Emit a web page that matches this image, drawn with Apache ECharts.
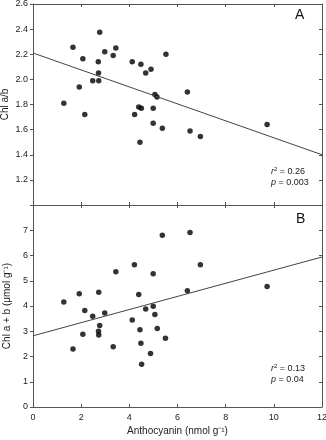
<!DOCTYPE html>
<html>
<head>
<meta charset="utf-8">
<script src="https://cdn.jsdelivr.net/npm/echarts@6/dist/echarts.min.js"></script>
<style>
  html, body { margin: 0; background: #fff; }
  #chart { width: 326px; height: 440px; }
</style>
</head>
<body>
<div id="chart"></div>
<script>
// panel A: chlorophyll a/b vs anthocyanin
const anthoA = [1.28, 1.66, 2.07, 1.92, 2.15, 2.48, 2.73, 2.72, 2.71, 2.77, 2.98, 3.33, 3.44, 4.12, 4.48, 4.90,
  4.68, 5.52, 5.06, 5.15, 4.39, 4.50, 4.99, 4.22, 4.99, 5.37, 4.44, 6.41, 6.52, 6.95, 9.72];
const ratioA = [1.81, 2.255, 2.165, 1.94, 1.72, 1.99, 1.99, 2.05, 2.14, 2.375, 2.22, 2.19, 2.25, 2.14, 2.12, 2.08,
  2.05, 2.20, 1.88, 1.86, 1.78, 1.77, 1.77, 1.72, 1.65, 1.61, 1.50, 1.90, 1.59, 1.545, 1.64];
const fitA = [[0, 2.21], [12, 1.40]];

// panel B: chlorophyll a+b vs anthocyanin
const anthoB = [1.28, 1.66, 1.92, 2.07, 2.15, 2.48, 2.73, 2.77, 2.72, 2.73, 2.98, 3.33, 3.44, 4.21, 4.12, 4.39,
  4.44, 4.48, 4.51, 4.68, 4.88, 4.99, 4.99, 5.06, 5.16, 5.37, 5.50, 6.41, 6.52, 6.95, 9.72];
const totalB = [4.16, 2.30, 4.49, 2.88, 3.82, 3.59, 4.54, 3.23, 3.00, 2.85, 3.72, 2.39, 5.36, 5.63, 3.45, 4.46,
  3.06, 2.52, 1.69, 3.88, 2.12, 5.28, 3.99, 3.66, 3.11, 6.80, 2.72, 4.60, 6.91, 5.63, 4.77];
const fitB = [[0, 2.82], [12, 5.94]];

const xMin = 0, xMax = 12, xStep = 2;
const yAMin = 1.0, yAMax = 2.6, yAStep = 0.2;
const yBMin = 0, yBMax = 8, yBStep = 1;

const font = '"Liberation Sans", Arial, sans-serif';
const frame = '#555';
const pts = (xs, ys) => xs.map((x, i) => [x, ys[i]]);

function xAx(grid, pos, labels, name) {
  return {
    type: 'value', gridIndex: grid, position: pos,
    min: xMin, max: xMax, interval: xStep,
    name: name || '', nameLocation: 'middle', nameGap: 19,
    nameTextStyle: {fontFamily: font, fontSize: 10, color: '#222'},
    axisLine: {show: true, onZero: false, lineStyle: {color: frame, width: 1}},
    axisTick: {show: true, inside: true, length: 3, lineStyle: {color: frame}},
    axisLabel: {show: labels, fontFamily: font, fontSize: 9, color: '#222', margin: 6},
    splitLine: {show: false}
  };
}

function yAx(grid, pos, min, max, step, labels, name, gap, hideTop) {
  return {
    type: 'value', gridIndex: grid, position: pos,
    min: min, max: max, interval: step,
    name: name || '', nameLocation: 'middle', nameGap: gap, nameMoveOverlap: false,
    nameTextStyle: {fontFamily: font, fontSize: 10, color: '#222'},
    axisLine: {show: true, onZero: false, lineStyle: {color: frame, width: 1}},
    axisTick: {show: true, inside: pos === 'right', length: 3, lineStyle: {color: frame}},
    axisLabel: {
      show: labels, fontFamily: font, fontSize: 9, color: '#222', margin: 5,
      formatter(v) {
        if (hideTop(v)) return '';
        return step < 1 ? v.toFixed(1) : String(v);
      }
    },
    splitLine: {show: false}
  };
}

const chart = echarts.init(document.getElementById('chart'));
chart.setOption({
  animation: false,
  backgroundColor: '#fff',
  grid: [
    {left: 33, right: 4, top: 4, height: 201, outerBoundsMode: 'none', containLabel: false},
    {left: 33, right: 4, top: 205, height: 202, outerBoundsMode: 'none', containLabel: false}
  ],
  xAxis: [
    xAx(0, 'bottom', false),
    xAx(0, 'top', false),
    xAx(1, 'bottom', true, 'Anthocyanin (nmol g\u207B\u00B9)'),
    xAx(1, 'top', false)
  ],
  yAxis: [
    yAx(0, 'left', yAMin, yAMax, yAStep, true, 'Chl a/b', 23, v => v < 1.1),
    yAx(0, 'right', yAMin, yAMax, yAStep, false, '', 0, () => false),
    yAx(1, 'left', yBMin, yBMax, yBStep, true, 'Chl a + b (\u03BCmol g\u207B\u00B9)', 21, v => v > 7.5),
    yAx(1, 'right', yBMin, yBMax, yBStep, false, '', 0, () => false)
  ],
  series: [
    {type: 'scatter', xAxisIndex: 0, yAxisIndex: 0, data: pts(anthoA, ratioA),
      symbolSize: 5.5, itemStyle: {color: '#000'}},
    {type: 'line', xAxisIndex: 0, yAxisIndex: 0, data: fitA, symbol: 'none',
      lineStyle: {color: '#444', width: 1}},
    {type: 'scatter', xAxisIndex: 2, yAxisIndex: 2, data: pts(anthoB, totalB),
      symbolSize: 5.5, itemStyle: {color: '#000'}},
    {type: 'line', xAxisIndex: 2, yAxisIndex: 2, data: fitB, symbol: 'none',
      lineStyle: {color: '#444', width: 1}}
  ],
  graphic: [
    {type: 'text', left: 295, top: 8, style: {text: 'A', font: '14px ' + font, fill: '#111'}},
    {type: 'text', left: 296, top: 212, style: {text: 'B', font: '14px ' + font, fill: '#111'}},
    {type: 'text', left: 271, top: 166, style: {
      text: '{i|r}{s|2} = 0.26\n{i|p} = 0.003',
      font: '9px ' + font, fill: '#222', lineHeight: 11,
      rich: {i: {fontStyle: 'italic', fontSize: 9, fontFamily: font}, s: {fontSize: 6, verticalAlign: 'top', fontFamily: font}}
    }},
    {type: 'text', left: 271, top: 363, style: {
      text: '{i|r}{s|2} = 0.13\n{i|p} = 0.04',
      font: '9px ' + font, fill: '#222', lineHeight: 11,
      rich: {i: {fontStyle: 'italic', fontSize: 9, fontFamily: font}, s: {fontSize: 6, verticalAlign: 'top', fontFamily: font}}
    }}
  ]
});
</script>
</body>
</html>
